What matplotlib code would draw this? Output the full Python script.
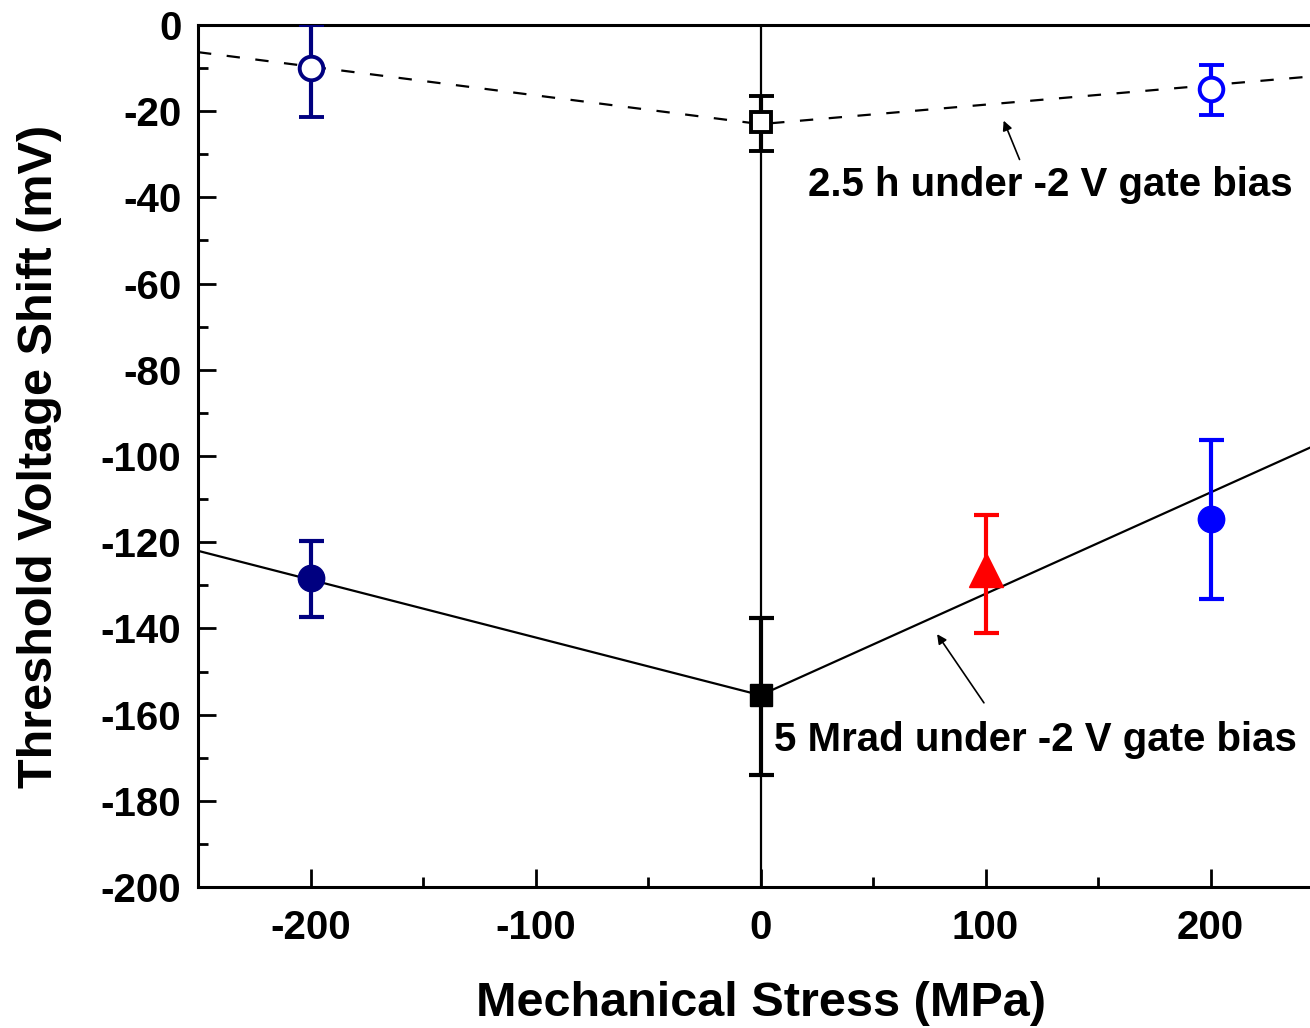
import matplotlib
matplotlib.use("Agg")
import matplotlib.pyplot as plt
from matplotlib.ticker import MultipleLocator

plt.rcParams['font.family'] = ['Liberation Sans', 'DejaVu Sans']
plt.rcParams['font.weight'] = 'bold'
plt.rcParams['axes.unicode_minus'] = False

# ---- data ----
# 2.5 h under -2 V gate bias (open markers, dashed fit)
bias_x = [-200, 0, 200]
bias_y = [-10, -22.5, -14.8]
bias_err_lo = [11.3, 6.7, 6.1]
bias_err_hi = [10, 6.0, 5.5]
bias_colors = ['#000080', 'black', '#0000ff']
bias_markers = ['o', 's', 'o']
bias_fit_x = [-250, 0, 250]
bias_fit_y = [-6.3, -23.0, -11.7]

# 5 Mrad under -2 V gate bias (filled markers, solid fit)
rad_x = [-200, 0, 100, 200]
rad_y = [-128.3, -155.5, -126.5, -114.6]
rad_err_lo = [9.1, 18.5, 14.5, 18.6]
rad_err_hi = [8.6, 17.9, 12.8, 18.3]
rad_colors = ['#000080', 'black', '#ff0000', '#0000ff']
rad_markers = ['o', 's', '^', 'o']
rad_fit_x = [-250, 0, 250]
rad_fit_y = [-122.0, -155.5, -96.7]

label_bias = "2.5 h under -2 V gate bias"
label_rad = "5 Mrad under -2 V gate bias"

W, H = 1310, 1028
fig = plt.figure(figsize=(W / 100, H / 100), dpi=100)
ax = fig.add_axes([198 / W, (H - 887) / H, 1125 / W, 862 / H])

ax.set_xlim(-250, 250)
ax.set_ylim(-200, 0)

# vertical line at zero stress
ax.axvline(0, color='black', lw=1.6, zorder=1)

# fit lines
ax.plot(bias_fit_x, bias_fit_y, color='black', lw=1.6, linestyle=(0, (6, 7)), zorder=2)
ax.plot(rad_fit_x, rad_fit_y, color='black', lw=1.6, zorder=2)

for x, y, lo, hi, c, m in zip(bias_x, bias_y, bias_err_lo, bias_err_hi, bias_colors, bias_markers):
    ax.errorbar([x], [y], yerr=[[lo], [hi]], fmt=m, color=c, mfc='white', mec=c,
                mew=2.8, ms=17 if m == 'o' else 15, elinewidth=3, capsize=9, capthick=3,
                zorder=3)

for x, y, lo, hi, c, m in zip(rad_x, rad_y, rad_err_lo, rad_err_hi, rad_colors, rad_markers):
    size = {'o': 19, 's': 16, '^': 25}[m]
    ax.errorbar([x], [y], yerr=[[lo], [hi]], fmt=m, color=c, mfc=c, mec=c,
                ms=size, elinewidth=3, capsize=9, capthick=3,
                zorder=3)

# annotations
ax.annotate('', xy=(107.6, -21.6), xytext=(115.6, -31.8),
            arrowprops=dict(arrowstyle='-|>', color='black', lw=1.2, mutation_scale=14))
ax.text(21.3, -37.1, label_bias, fontsize=29, fontweight='bold', ha='left', va='center')
ax.annotate('', xy=(77.8, -140.8), xytext=(100, -157.8),
            arrowprops=dict(arrowstyle='-|>', color='black', lw=1.2, mutation_scale=14))
ax.text(5.8, -165.9, label_rad, fontsize=29, fontweight='bold', ha='left', va='center')

# axes styling
for s in ['left', 'bottom', 'top', 'right']:
    ax.spines[s].set_linewidth(2.2)
ax.xaxis.set_major_locator(MultipleLocator(100))
ax.xaxis.set_minor_locator(MultipleLocator(50))
ax.yaxis.set_major_locator(MultipleLocator(20))
ax.yaxis.set_minor_locator(MultipleLocator(10))
ax.tick_params(which='major', direction='in', length=13, width=2, labelsize=29)
ax.tick_params(axis='x', which='major', pad=16)
ax.tick_params(axis='y', which='major', pad=12)
ax.tick_params(which='minor', direction='in', length=7, width=2)
ax.tick_params(top=False, right=False, which='both')
for lab in ax.get_xticklabels() + ax.get_yticklabels():
    lab.set_fontweight('bold')

ax.set_xlabel('Mechanical Stress (MPa)', fontsize=35, fontweight='bold', labelpad=24)
ax.set_ylabel('Threshold Voltage Shift (mV)', fontsize=35, fontweight='bold', labelpad=28)

fig.savefig('out.png', dpi=100)
